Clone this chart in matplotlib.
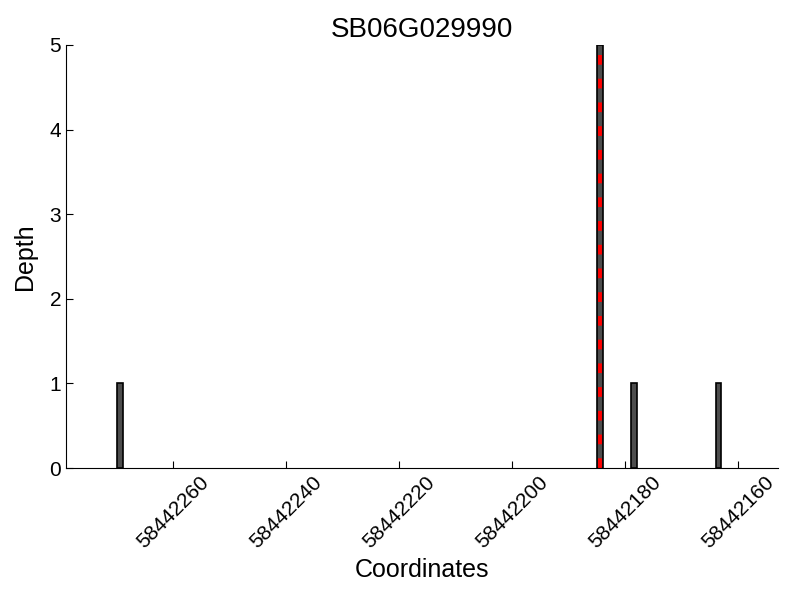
import matplotlib
matplotlib.use("Agg")
import matplotlib.pyplot as plt

plt.rcParams['font.family'] = ['Liberation Sans', 'DejaVu Sans']

# coverage data
positions = [58442269, 58442184, 58442178, 58442163]
depths = [1, 5, 1, 1]
marker_pos = 58442184.5
gene = "SB06G029990"
xticks = [58442260, 58442240, 58442220, 58442200, 58442180, 58442160]

fig = plt.figure(figsize=(8, 6), dpi=100)
ax = fig.add_axes([0.0825, 0.22, 0.89, 0.705])

ax.bar(positions, depths, width=1, align='edge', color='#4d4d4d', edgecolor='black', linewidth=1.2)
ax.plot([marker_pos, marker_pos], [0, max(depths)], color='red', linestyle='--', linewidth=2.8, dashes=(2.5, 3.6))

ax.set_xlim(58442279, 58442153)
ax.set_ylim(0, 5)
ax.set_xticks(xticks)
ax.set_xticklabels([str(t) for t in xticks], rotation=45, fontsize=15)
ax.set_yticks(range(6))
ax.tick_params(axis='y', labelsize=15)
ax.tick_params(direction='in', length=5)
ax.spines['top'].set_visible(False)
ax.spines['right'].set_visible(False)

ax.set_title(gene, fontsize=20)
ax.set_xlabel("Coordinates", fontsize=18)
ax.set_ylabel("Depth", fontsize=18, labelpad=9)

fig.savefig("out.png", dpi=100)
